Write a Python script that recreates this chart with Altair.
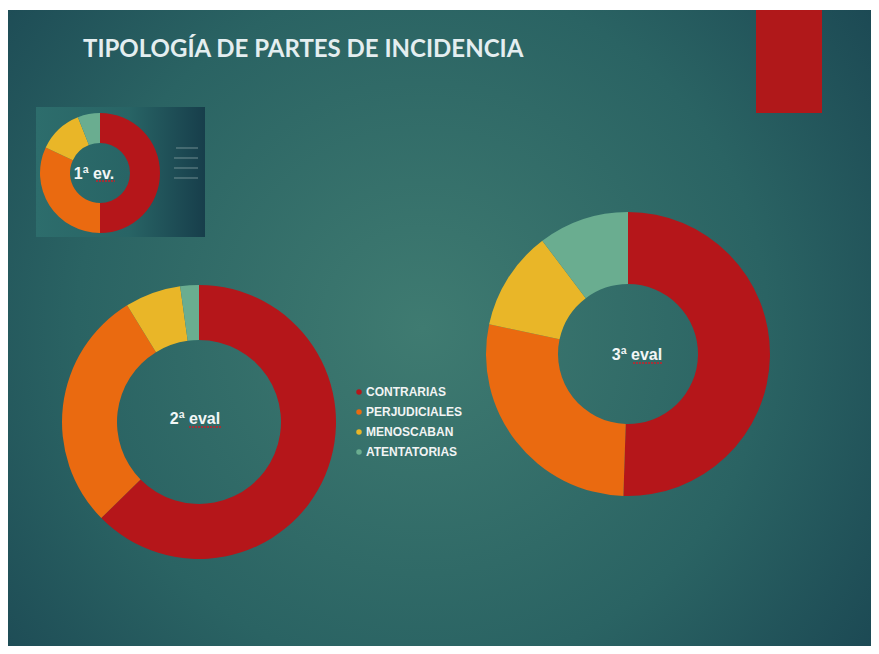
import altair as alt
import pandas as pd

# ---- data ----
title_text = "TIPOLOGÍA DE PARTES DE INCIDENCIA"
evals = ["1ª ev.", "2ª eval", "3ª eval"]
categories = ["CONTRARIAS", "PERJUDICIALES", "MENOSCABAN", "ATENTATORIAS"]
eval1 = [25, 16, 6, 3]
eval2 = [57, 26, 6, 2]
eval3 = [49, 27, 11, 10]
colors = ["#b5161a", "#ea6a10", "#e9b628", "#6aad90"]

rows = []
for ev, vals in zip(evals, [eval1, eval2, eval3]):
    for i, (c, v) in enumerate(zip(categories, vals)):
        rows.append({"eval": ev, "cat": c, "value": v, "idx": i})
df = pd.DataFrame(rows)

W, H = 863, 638
one = alt.Data(values=[{"a": 1}])

color = alt.Color(
    "cat:N",
    scale=alt.Scale(domain=categories, range=colors),
    legend=alt.Legend(
        title=None, orient="none", legendX=345, legendY=375,
        labelFont="Liberation Sans", labelFontSize=12, labelFontWeight="bold",
        labelColor="#f2f4f4", symbolType="circle", symbolSize=30,
        symbolStrokeWidth=0, labelOffset=1, clipHeight=18, rowPadding=2,
        padding=0, offset=0,
    ),
)

# background slide
bg = alt.Chart(one).mark_rect(
    fill=alt.Gradient(
        gradient="radial",
        stops=[
            alt.GradientStop(color="#3f7b71", offset=0),
            alt.GradientStop(color="#2a6363", offset=0.5),
            alt.GradientStop(color="#13384a", offset=1),
        ],
        x1=0.48, y1=0.5, r1=0, x2=0.48, y2=0.5, r2=0.8,
    )
).encode(x=alt.value(0), x2=alt.value(W), y=alt.value(2), y2=alt.value(H))

red_box = alt.Chart(one).mark_rect(color="#b0181a").encode(
    x=alt.value(748), x2=alt.value(814), y=alt.value(2), y2=alt.value(105)
)

small_box = alt.Chart(one).mark_rect(
    fill=alt.Gradient(
        gradient="linear",
        stops=[
            alt.GradientStop(color="#2d6d6c", offset=0),
            alt.GradientStop(color="#286465", offset=0.55),
            alt.GradientStop(color="#173e4b", offset=1),
        ],
        x1=0, y1=0, x2=1, y2=0,
    )
).encode(x=alt.value(28), x2=alt.value(197), y=alt.value(99), y2=alt.value(229))

small_lines = [
    alt.Chart(one).mark_rule(color="#a9bcbc", strokeWidth=1, opacity=0.6).encode(
        x=alt.value(x0), x2=alt.value(190), y=alt.value(y0)
    )
    for x0, y0 in [(168, 140), (166, 150), (166, 160), (166, 170)]
]

title = alt.Chart(one).mark_text(
    text=title_text, align="left", baseline="alphabetic",
    font="Lato", fontSize=24, fontWeight="bold", color="#e4eef0",
).encode(x=alt.value(75), y=alt.value(49))


def donut(ev, cx, cy, ro, ri):
    return alt.Chart(df).transform_filter(alt.datum.eval == ev).mark_arc(
        outerRadius=ro, innerRadius=ri
    ).encode(
        theta=alt.Theta("value:Q", stack=True),
        order=alt.Order("idx:Q"),
        color=color,
        x=alt.value(cx), y=alt.value(cy),
    )


d1 = donut(evals[0], 92, 165, 60, 30)
d2 = donut(evals[1], 191, 414, 137, 82)
d3 = donut(evals[2], 620, 346, 142, 70)


def label(txt, x, y):
    return alt.Chart(one).mark_text(
        text=txt, font="Liberation Sans", fontSize=16, fontWeight="bold",
        color="#f2f6f6", align="center", baseline="middle",
    ).encode(x=alt.value(x), y=alt.value(y))


labels = [label(evals[0], 86, 166), label(evals[1], 187, 411), label(evals[2], 629, 347)]

squiggles = [
    alt.Chart(one).mark_rule(color="#c8202a", strokeWidth=1.5, strokeDash=[2, 1]).encode(
        x=alt.value(a), x2=alt.value(b), y=alt.value(y)
    )
    for a, b, y in [(88, 107, 173), (181, 214, 419), (625, 655, 355)]
]

chart = alt.layer(
    bg, red_box, small_box, *small_lines, title, d1, d2, d3, *labels, *squiggles
).resolve_scale(theta="independent").properties(
    width=W, height=H, background="#ffffff", padding=0
).configure_view(stroke=None)

chart.save("out.html", embed_options={"renderer": "svg", "actions": False})
